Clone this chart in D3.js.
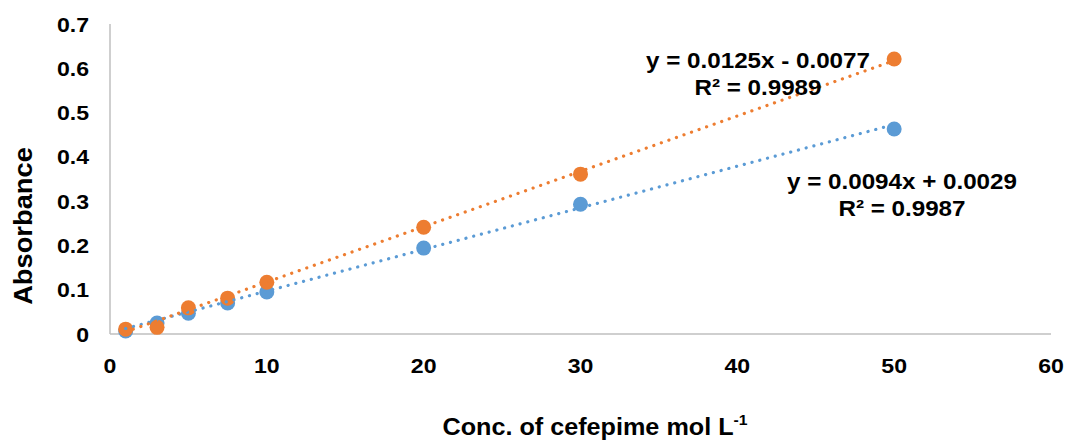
<!DOCTYPE html>
<html>
<head>
<meta charset="utf-8">
<script src="https://cdn.jsdelivr.net/npm/d3@7"></script>
<style>
  body { margin: 0; background: #fff; }
  text { font-family: "Liberation Sans", Arial, sans-serif; font-weight: bold; fill: #000; }
</style>
</head>
<body>
<div id="chart"></div>
<script>
// concentrations (x) and absorbance readings for the two series
var conc = [1, 3, 5, 7.5, 10, 20, 30, 50];
var blueAbs = [0.007, 0.025, 0.047, 0.070, 0.095, 0.194, 0.293, 0.463];
var orangeAbs = [0.011, 0.015, 0.059, 0.081, 0.117, 0.241, 0.361, 0.621];

// trendline coefficients as printed on the chart
var blueFit = {slope: 0.0094, icpt: 0.0029, eq: "y = 0.0094x + 0.0029", r2: "R² = 0.9987"};
var orangeFit = {slope: 0.0125, icpt: -0.0077, eq: "y = 0.0125x - 0.0077", r2: "R² = 0.9989"};

var xTicks = [0, 10, 20, 30, 40, 50, 60];
var yTicks = [0, 0.1, 0.2, 0.3, 0.4, 0.5, 0.6, 0.7];

var W = 1066, H = 441;
var BLUE = "#5B9BD5", ORANGE = "#ED7D31";
var STRETCH = 1.1; // the original text looks a bit wide

var svg = d3.select("#chart").append("svg")
    .attr("width", W)
    .attr("height", H);

var x = d3.scaleLinear().domain([0, 60]).range([110, 1051]);
var y = d3.scaleLinear().domain([0, 0.7]).range([334, 24]);

/** puts a bold label at (px, py), slightly widened */
function label(px, py, str, size, anchor) {
    return svg.append("text")
        .attr("transform", "translate(" + px + "," + py + ") scale(" + STRETCH + ",1)")
        .attr("text-anchor", anchor)
        .attr("dy", "0.36em")
        .style("font-size", size + "px")
        .text(str);
}

// axis lines
svg.append("line")
    .attr("x1", x(0)).attr("x2", x(0))
    .attr("y1", y(0.7)).attr("y2", y(0))
    .attr("stroke", "#BFBFBF").attr("stroke-width", 1.5);
svg.append("line")
    .attr("x1", x(0)).attr("x2", x(60))
    .attr("y1", y(0)).attr("y2", y(0))
    .attr("stroke", "#BFBFBF").attr("stroke-width", 1.5);

// tick labels
yTicks.forEach(function(d) {
    label(89, y(d), d3.format("~g")(d), 21, "end");
});
xTicks.forEach(function(d) {
    label(x(d), 365, d, 21, "middle");
});

// axis titles
svg.append("text")
    .attr("transform", "translate(32,226) rotate(-90) scale(1.05,1)")
    .attr("text-anchor", "middle")
    .style("font-size", "26px")
    .text("Absorbance");

var xt = svg.append("text")
    .attr("transform", "translate(595,435) scale(1.05,1)")
    .attr("text-anchor", "middle")
    .style("font-size", "24px");
xt.append("tspan").text("Conc. of cefepime mol L");
xt.append("tspan").attr("dy", -10).style("font-size", "15px").text("-1");

// markers
function drawPoints(vals, color) {
    svg.append("g").selectAll("circle").data(vals).enter().append("circle")
        .attr("cx", function(d, i) { return x(conc[i]); })
        .attr("cy", function(d) { return y(d); })
        .attr("r", 7.5)
        .attr("fill", color);
}
drawPoints(blueAbs, BLUE);
drawPoints(orangeAbs, ORANGE);

// dotted linear trendlines over the data range
function drawTrend(fit, color) {
    var x0 = d3.min(conc), x1 = d3.max(conc);
    svg.append("line")
        .attr("x1", x(x0)).attr("y1", y(fit.slope * x0 + fit.icpt))
        .attr("x2", x(x1)).attr("y2", y(fit.slope * x1 + fit.icpt))
        .attr("stroke", color)
        .attr("stroke-width", 3.2)
        .attr("stroke-linecap", "round")
        .attr("stroke-dasharray", "0.1,7.9");
}
drawTrend(blueFit, BLUE);
drawTrend(orangeFit, ORANGE);

// equation labels
label(758, 60, orangeFit.eq, 22, "middle");
label(758, 87, orangeFit.r2, 22, "middle");
label(902, 181, blueFit.eq, 22, "middle");
label(902, 208, blueFit.r2, 22, "middle");
</script>
</body>
</html>
